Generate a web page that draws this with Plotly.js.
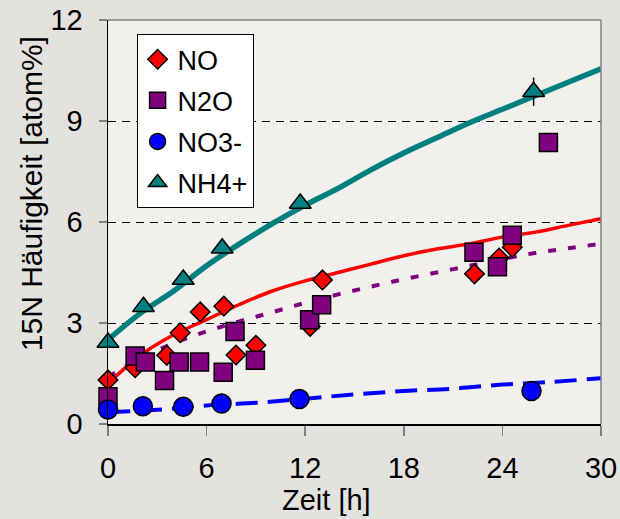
<!DOCTYPE html>
<html>
<head>
<meta charset="utf-8">
<script src="https://cdn.plot.ly/plotly-3.0.1.min.js"></script>
<style>html,body{margin:0;padding:0;background:#e4e2de;}#chart{width:620px;height:519px;}</style>
</head>
<body>
<div id="chart"></div>
<script>
// Measured points
const noT   = [0, 1.65, 3.57, 4.39, 5.61, 7.05, 7.79, 9.0, 12.3, 13.05, 22.3, 23.8, 24.6];
const noY   = [1.31, 1.67, 2.04, 2.71, 3.33, 3.5, 2.05, 2.34, 2.9, 4.28, 4.46, 4.93, 5.25];
const n2oT  = [0, 1.65, 2.27, 3.44, 4.33, 5.57, 7.01, 7.73, 8.97, 12.27, 13.0, 22.27, 23.7, 24.6, 26.8];
const n2oY  = [0.81, 2.02, 1.84, 1.29, 1.84, 1.84, 1.54, 2.75, 1.89, 3.1, 3.54, 5.1, 4.67, 5.61, 8.36];
const no3T  = [0, 2.12, 4.58, 6.91, 11.65, 25.77];
const no3Y  = [0.43, 0.53, 0.51, 0.61, 0.74, 0.98];
const nh4T  = [0, 2.16, 4.58, 6.95, 11.7, 25.9];
const nh4Y  = [2.42, 3.48, 4.29, 5.22, 6.55, 9.87];
const nh4Err = [0, 0, 0, 0, 0, 0.42];

// Fitted curves
const fitT    = [0, 2, 4, 6, 8, 10, 12, 14, 16, 18, 20, 22, 24, 26, 28, 30];
const nh4Fit  = [2.5, 3.3, 3.95, 4.7, 5.35, 5.95, 6.5, 7.0, 7.55, 8.05, 8.5, 8.95, 9.35, 9.75, 10.15, 10.55];
const noFit   = [1.2, 2.05, 2.65, 3.1, 3.55, 3.95, 4.25, 4.5, 4.75, 5.0, 5.2, 5.35, 5.55, 5.7, 5.9, 6.1];
const n2oFit  = [1.4, 1.95, 2.4, 2.75, 3.05, 3.32, 3.6, 3.85, 4.08, 4.3, 4.5, 4.7, 4.9, 5.08, 5.22, 5.35];
const no3FitT = [0, 3, 6, 9, 12, 15, 18, 21, 24, 27, 30];
const no3Fit  = [0.35, 0.42, 0.55, 0.63, 0.75, 0.88, 0.98, 1.05, 1.17, 1.25, 1.36];

const xTicks = [0, 6, 12, 18, 24, 30];
const yTicks = [0, 3, 6, 9, 12];

const FONT = 'Liberation Sans, Arial, sans-serif';

const traces = [
  {x: fitT, y: nh4Fit, mode: 'lines', line: {color: '#008080', width: 5.5, shape: 'spline'}, showlegend: false, hoverinfo: 'skip'},
  {x: fitT, y: noFit, mode: 'lines', line: {color: '#ff0000', width: 3.5, shape: 'spline'}, showlegend: false, hoverinfo: 'skip'},
  {x: fitT, y: n2oFit, mode: 'lines', line: {color: '#800080', width: 4, dash: '8px,12px', shape: 'spline'}, showlegend: false, hoverinfo: 'skip'},
  {x: no3FitT, y: no3Fit, mode: 'lines', line: {color: '#0000ff', width: 4, dash: '22px,10px', shape: 'spline'}, showlegend: false, hoverinfo: 'skip'},
  {x: noT, y: noY, name: 'NO', mode: 'markers', legendgroup: 'a',
   marker: {symbol: 'diamond', size: 15, color: '#ff0000', line: {color: '#000', width: 1.5}}, cliponaxis: false},
  {x: n2oT, y: n2oY, name: 'N2O', mode: 'markers', legendgroup: 'b',
   marker: {symbol: 'square', size: 18, color: '#800080', line: {color: '#000', width: 1.5}}, cliponaxis: false},
  {x: no3T, y: no3Y, name: 'NO3-', mode: 'markers', legendgroup: 'c',
   marker: {symbol: 'circle', size: 19, color: '#0000ff', line: {color: '#000', width: 1.5}}, cliponaxis: false},
  {x: nh4T, y: nh4Y, name: 'NH4+', mode: 'markers', legendgroup: 'd',
   error_y: {type: 'data', array: nh4Err, visible: true, color: '#000', thickness: 1.5, width: 0},
   marker: {symbol: 'triangle-up', size: 19, color: '#008080', line: {color: '#000', width: 1.5}}, cliponaxis: false}
];

const layout = {
  width: 620, height: 519,
  paper_bgcolor: '#e4e2de',
  plot_bgcolor: '#f2f0ed',
  margin: {l: 108, r: 19, t: 20, b: 95},
  font: {family: FONT, color: '#000'},
  showlegend: true,
  legend: {
    x: 0.058, y: 0.965, xanchor: 'left', yanchor: 'top',
    bgcolor: '#ffffff', bordercolor: '#000', borderwidth: 1,
    font: {family: FONT, size: 27, color: '#000'},
    tracegroupgap: 3, itemwidth: 30
  },
  xaxis: {
    range: [0, 30], tickvals: xTicks, ticktext: xTicks.map(String),
    showgrid: false, zeroline: false,
    showline: true, linecolor: '#000', linewidth: 1.5,
    ticks: 'outside', ticklen: 10, tickcolor: '#808080', tickwidth: 1.5,
    ticklabelstandoff: 8,
    tickfont: {family: FONT, size: 29, color: '#000'}
  },
  yaxis: {
    range: [0, 12], tickvals: yTicks, ticktext: yTicks.map(String),
    showgrid: true, gridcolor: '#000', gridwidth: 1, griddash: '8px,6px',
    zeroline: false,
    showline: true, linecolor: '#000', linewidth: 1.5,
    ticks: 'outside', ticklen: 8, tickcolor: '#808080', tickwidth: 1.5,
    ticklabelstandoff: 10,
    tickfont: {family: FONT, size: 29, color: '#000'}
  },
  shapes: [
    {type: 'line', xref: 'paper', yref: 'paper', x0: 0, x1: 1, y0: 1, y1: 1, line: {color: '#808080', width: 1.5}, layer: 'above'},
    {type: 'line', xref: 'paper', yref: 'paper', x0: 1, x1: 1, y0: 0, y1: 1, line: {color: '#808080', width: 1.5}, layer: 'above'}
  ],
  annotations: [
    {text: 'Zeit [h]', xref: 'paper', yref: 'paper', x: 0.444, y: -0.188, xanchor: 'center', yanchor: 'middle',
     showarrow: false, font: {family: FONT, size: 29, color: '#000'}},
    {text: '15N Häufigkeit [atom%]', xref: 'paper', yref: 'paper', x: -0.156, y: 0.569, xanchor: 'center', yanchor: 'middle',
     textangle: -90, showarrow: false, font: {family: FONT, size: 30, color: '#000'}}
  ]
};

Plotly.newPlot('chart', traces, layout, {displayModeBar: false, staticPlot: true});
</script>
</body>
</html>
